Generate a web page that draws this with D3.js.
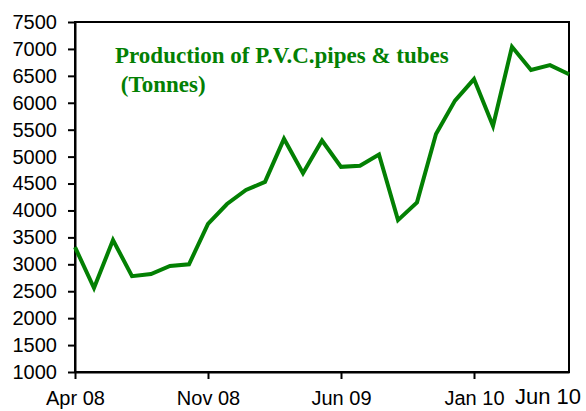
<!DOCTYPE html>
<html>
<head>
<meta charset="utf-8">
<script src="https://cdn.jsdelivr.net/npm/d3@7"></script>
<style>
  html, body { margin: 0; padding: 0; background: #fff; }
  svg { display: block; }
</style>
</head>
<body>
<svg width="586" height="411"></svg>
<script>
(function(){
	'use strict';

	// monthly production, Apr 08 .. Jun 10
	const months = ['Apr 08','May 08','Jun 08','Jul 08','Aug 08','Sep 08','Oct 08','Nov 08','Dec 08',
		'Jan 09','Feb 09','Mar 09','Apr 09','May 09','Jun 09','Jul 09','Aug 09','Sep 09','Oct 09',
		'Nov 09','Dec 09','Jan 10','Feb 10','Mar 10','Apr 10','May 10','Jun 10'];
	const tonnes = [3320, 2560, 3450, 2780, 2820, 2970, 3000, 3750, 4120,
		4380, 4530, 5330, 4690, 5300, 4810, 4830, 5040, 3820, 4150,
		5420, 6040, 6440, 5570, 7040, 6610, 6700, 6530];
	const xTickLabels = ['Apr 08', 'Nov 08', 'Jun 09', 'Jan 10'];
	const yTicks = d3.range(1000, 7501, 500);
	const titleLines = ['Production of P.V.C.pipes & tubes', ' (Tonnes)'];

	const svg = d3.select('svg');
	const green = '#038003';
	const left = 75, right = 569, top = 22, bottom = 372;

	const x = d3.scalePoint()
		.domain(months)
		.range([left, right]);

	const y = d3.scaleLinear()
		.domain([1000, 7500])
		.range([bottom, top]);

	// frame
	svg.append('rect')
		.attr('x', left)
		.attr('y', top)
		.attr('width', right - left)
		.attr('height', bottom - top)
		.attr('fill', 'none')
		.attr('stroke', '#000')
		.attr('stroke-width', 2);

	const yAxis = svg.append('g')
		.attr('transform', `translate(${left},0)`)
		.call(d3.axisLeft(y).tickValues(yTicks).tickFormat(d3.format('d'))
			.tickSize(7).tickPadding(11).tickSizeOuter(0));

	const xAxis = svg.append('g')
		.attr('transform', `translate(0,${bottom})`)
		.call(d3.axisBottom(x).tickValues(xTickLabels).tickSize(7).tickPadding(12).tickSizeOuter(0));

	[yAxis, xAxis].forEach(a => {
		a.select('.domain').attr('stroke', '#000').attr('stroke-width', 2);
		a.selectAll('.tick line').attr('stroke', '#000').attr('stroke-width', 2);
		a.selectAll('.tick text')
			.attr('fill', '#000')
			.style('font-family', '"Liberation Sans", Arial, sans-serif')
			.style('font-size', '20px');
	});

	// last month label sits a bit higher and larger
	svg.append('text')
		.attr('x', x(months[months.length - 1]) - 21)
		.attr('y', 404)
		.attr('text-anchor', 'middle')
		.style('font-family', '"Liberation Sans", Arial, sans-serif')
		.style('font-size', '22px')
		.text(months[months.length - 1]);

	const line = d3.line()
		.x((d, i) => x(months[i]))
		.y(d => y(d));

	svg.append('path')
		.datum(tonnes)
		.attr('d', line)
		.attr('fill', 'none')
		.attr('stroke', green)
		.attr('stroke-width', 4)
		.attr('stroke-linejoin', 'miter');

	svg.append('g')
		.selectAll('text')
		.data(titleLines)
		.join('text')
			.attr('x', 115)
			.attr('y', (d, i) => 63 + i * 29)
			.attr('fill', green)
			.style('font-family', '"Liberation Serif", "Times New Roman", serif')
			.style('font-weight', 'bold')
			.style('font-size', '23px')
			.style('white-space', 'pre')
			.text(d => d);
})();
</script>
</body>
</html>
